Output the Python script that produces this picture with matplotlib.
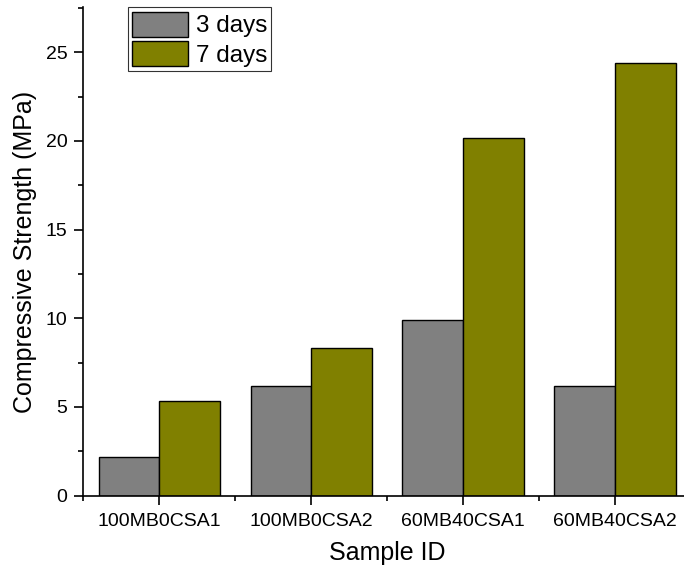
import matplotlib
matplotlib.use("Agg")
import matplotlib.pyplot as plt
import numpy as np
from matplotlib.ticker import MultipleLocator, FixedLocator

plt.rcParams["font.family"] = ["Liberation Sans", "DejaVu Sans"]

samples = ["100MB0CSA1", "100MB0CSA2", "60MB40CSA1", "60MB40CSA2"]
strength_3d = [2.2, 6.2, 9.88, 6.17]
strength_7d = [5.36, 8.35, 20.17, 24.4]
series_labels = ["3 days", "7 days"]

COLORS = ["#808080", "#808000"]

fig = plt.figure(figsize=(6.84, 5.73), dpi=100)
ax = fig.add_axes([83.3 / 684, (573 - 495.7) / 573, 608 / 684, 488.4 / 573])

x = np.arange(1, len(samples) + 1)
width = 0.4
ax.bar(x - width / 2, strength_3d, width, color=COLORS[0], edgecolor="black",
       linewidth=1.0, label=series_labels[0])
ax.bar(x + width / 2, strength_7d, width, color=COLORS[1], edgecolor="black",
       linewidth=1.0, label=series_labels[1])

ax.set_xlim(0.5, 4.5)
ax.set_ylim(0, 27.53)
ax.set_xticks(x)
ax.set_xticklabels(samples)
ax.xaxis.set_minor_locator(FixedLocator(np.arange(0.5, 5.0, 1.0)))
ax.yaxis.set_major_locator(MultipleLocator(5))
ax.yaxis.set_minor_locator(MultipleLocator(2.5))

for side in ["top", "right"]:
    ax.spines[side].set_visible(False)
for side in ["left", "bottom"]:
    ax.spines[side].set_linewidth(1.2)

ax.tick_params(which="major", direction="out", length=6.5, width=1.2, labelsize=14)
ax.tick_params(which="minor", direction="out", length=3.4, width=1.2)
ax.tick_params(axis="x", which="major", pad=6)
ax.tick_params(axis="y", which="major", pad=5)

ax.set_xlabel("Sample ID", fontsize=18, labelpad=8)
ax.set_ylabel("Compressive Strength (MPa)", fontsize=18, labelpad=6)

leg = ax.legend(loc="upper left", bbox_to_anchor=(0.0735, 1.0), borderaxespad=0,
                fontsize=17.5, frameon=True, fancybox=False, edgecolor="black",
                handlelength=2.3, handleheight=1.2, handletextpad=0.3,
                borderpad=0.18, labelspacing=0.16)
leg.get_frame().set_linewidth(0.8)

fig.savefig("out.png", dpi=100)
